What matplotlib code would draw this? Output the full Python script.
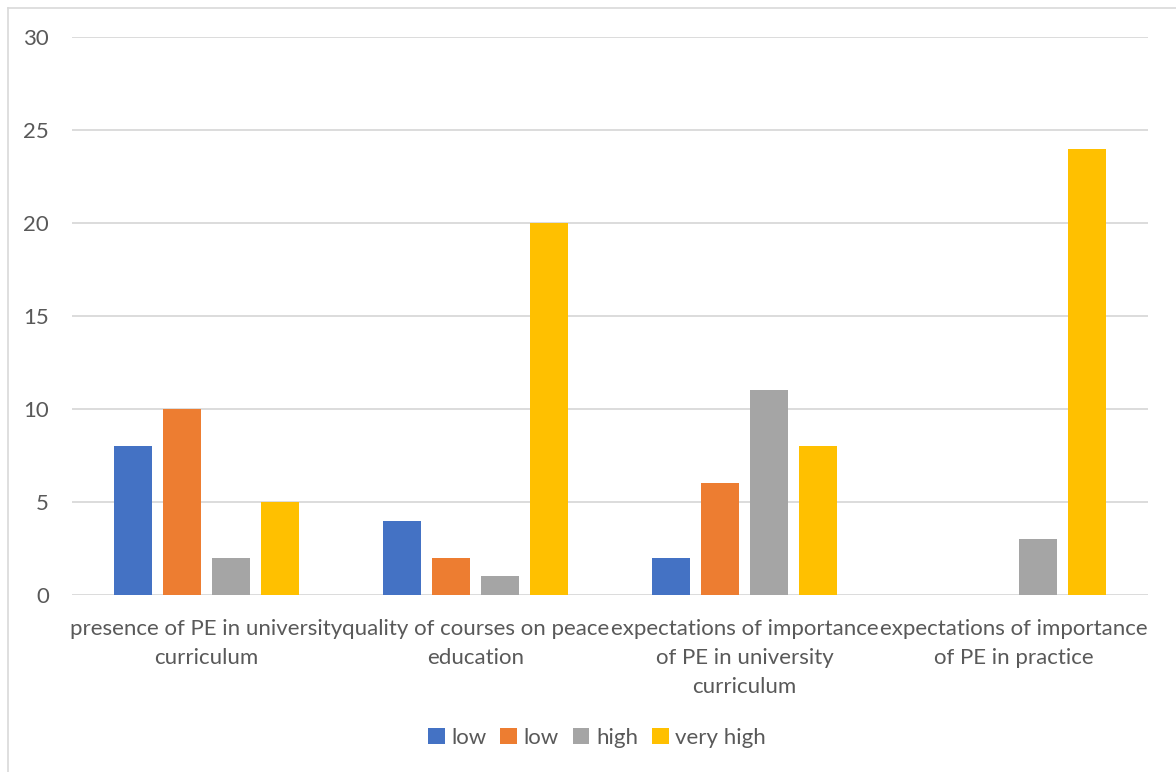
import matplotlib
matplotlib.use("Agg")
import matplotlib.pyplot as plt
from matplotlib.lines import Line2D
import numpy as np

categories = [
    "presence of PE in university\ncurriculum",
    "quality of courses on peace\neducation",
    "expectations of importance\nof PE in university\ncurriculum",
    "expectations of importance\nof PE in practice",
]
series_names = ["low", "low", "high", "very high"]
series_values = [
    [8, 4, 2, 0],
    [10, 2, 6, 0],
    [2, 1, 11, 3],
    [5, 20, 8, 24],
]
colors = ["#4472C4", "#ED7D31", "#A5A5A5", "#FFC000"]
y_ticks = [0, 5, 10, 15, 20, 25, 30]

W, H = 1176, 772
plt.rcParams["font.family"] = ["Lato", "DejaVu Sans"]
text_color = "#595959"
PT = 72 / 100  # points per pixel at 100 dpi

fig = plt.figure(figsize=(W / 100, H / 100), dpi=100)
fig.patch.set_facecolor("white")

# chart border (top and left edges visible)
fig.add_artist(Line2D([8 / W, 1.0], [1 - 8 / H, 1 - 8 / H], transform=fig.transFigure,
                      color="#D9D9D9", lw=1.2))
fig.add_artist(Line2D([8 / W, 8 / W], [0, 1 - 8 / H], transform=fig.transFigure,
                      color="#D9D9D9", lw=1.2))

left, right, top, bottom = 72, 1148, 37, 595
ax = fig.add_axes([left / W, 1 - bottom / H, (right - left) / W, (bottom - top) / H])

x = np.arange(len(categories))
step = 0.182
width = 0.141
offsets = (np.arange(len(series_names)) - 1.5) * step
for name, vals, off, c in zip(series_names, series_values, offsets, colors):
    ax.bar(x + off, vals, width=width, color=c, label=name, zorder=3)

ax.set_xlim(-0.5, len(categories) - 0.5)
ax.set_ylim(0, 30)
ax.set_yticks(y_ticks)
ax.set_xticks(x)
ax.set_xticklabels(categories, linespacing=1.58)
ax.tick_params(axis="both", length=0, colors=text_color, labelsize=16)
ax.tick_params(axis="y", pad=23 * PT)
ax.tick_params(axis="x", pad=17)
ax.yaxis.grid(True, color="#D9D9D9", lw=1.3, zorder=0)
for s in ax.spines.values():
    s.set_visible(False)

leg = fig.legend(loc="center", bbox_to_anchor=(597 / W, 1 - 738 / H), ncol=4,
                 frameon=False, fontsize=16, handlelength=0.75, handleheight=0.75,
                 handletextpad=0.3, columnspacing=0.62, labelcolor=text_color)

fig.savefig("out.png", dpi=100, facecolor="white")
